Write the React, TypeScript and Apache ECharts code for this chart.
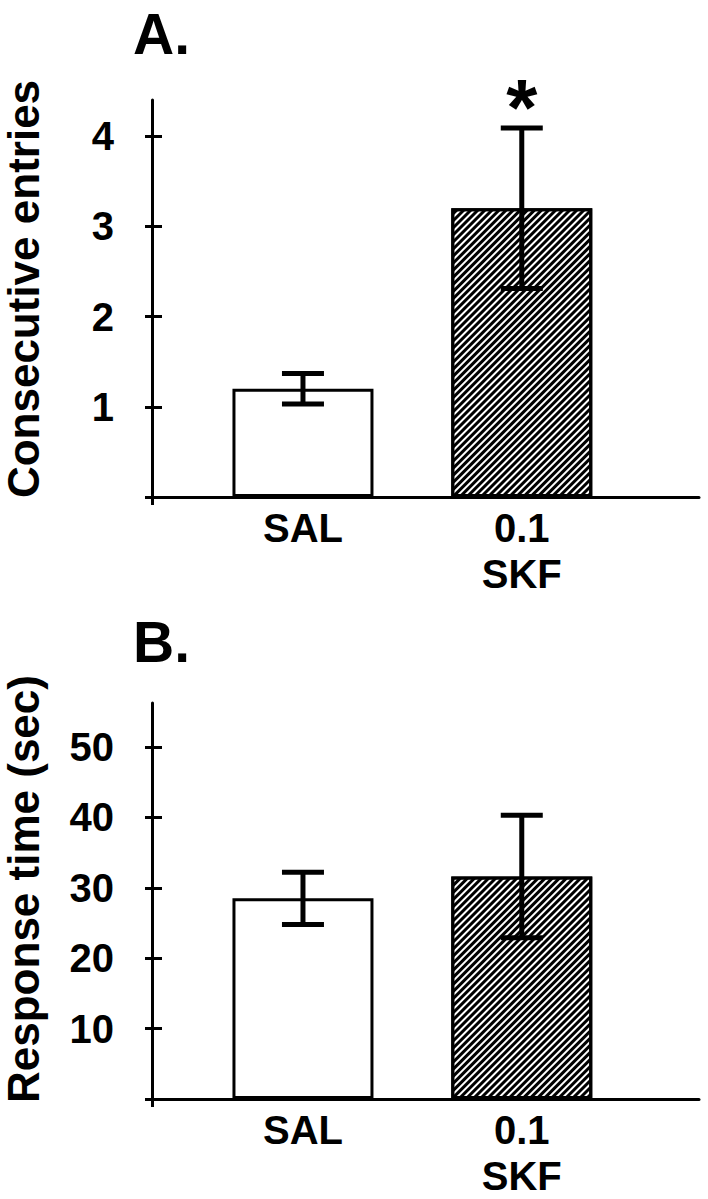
import React, { useEffect, useRef } from "react";
import * as echarts from "echarts";

const FONT = '"Liberation Sans", Arial, Helvetica, sans-serif';

// ---- data ----
const categories = ["SAL", "0.1\nSKF"];
const xPositions = [1, 2];
const entriesMean = [1.2, 3.2];
const entriesErr = [0.17, 0.89];
const entriesSig = ["", "*"];
const responseMean = [28.5, 31.6];
const responseErr = [3.7, 8.7];
const responseSig = ["", ""];
const entriesTicks = [1, 2, 3, 4];
const responseTicks = [10, 20, 30, 40, 50];
const panelTitles = ["A.", "B."];
const yTitles = ["Consecutive entries", "Response time (sec)"];

const X_MIN = 0.31;
const X_MAX = 2.81;

const hatchDecal = {
  symbol: "rect",
  symbolSize: 1,
  color: "#000",
  dashArrayX: [1, 0],
  dashArrayY: [2.4, 1.6],
  rotation: -Math.PI / 4,
};

function errorRenderItem(sig: string[]) {
  return (params: any, api: any) => {
    const x = api.value(0);
    const m = api.value(1);
    const e = api.value(2);
    const top = api.coord([x, m + e]);
    const bot = api.coord([x, m - e]);
    const hw = 21;
    const style = { stroke: "#000", lineWidth: 5 };
    const children: any[] = [
      { type: "line", shape: { x1: top[0], y1: top[1], x2: bot[0], y2: bot[1] }, style },
      { type: "line", shape: { x1: top[0] - hw, y1: top[1], x2: top[0] + hw, y2: top[1] }, style },
      { type: "line", shape: { x1: bot[0] - hw, y1: bot[1], x2: bot[0] + hw, y2: bot[1] }, style },
    ];
    const s = sig[params.dataIndex];
    if (s) {
      children.push({
        type: "text",
        style: {
          text: s,
          x: top[0],
          y: top[1] - 20,
          align: "center",
          verticalAlign: "middle",
          font: `bold 80px ${FONT}`,
          fill: "#000",
        },
      });
    }
    return { type: "group", children };
  };
}

export default function App() {
  const ref = useRef<HTMLDivElement>(null);
  useEffect(() => {
    if (!ref.current) return;
    const chart = echarts.init(ref.current, null, { renderer: "svg" });

    const grids = [
      { left: 152, top: 100, width: 547, height: 397, outerBoundsMode: "none", containLabel: false },
      { left: 152, top: 703, width: 547, height: 396, outerBoundsMode: "none", containLabel: false },
    ];
    const yMax = [4.4, 56.25];
    const tickSets = [entriesTicks, responseTicks];
    const means = [entriesMean, responseMean];
    const errs = [entriesErr, responseErr];
    const sigs = [entriesSig, responseSig];
    const namePad = [19, 24];

    const axisLine = { show: true, lineStyle: { color: "#000", width: 3 } };

    const xAxis: any[] = [];
    const yAxis: any[] = [];
    const series: any[] = [];
    for (let p = 0; p < 2; p++) {
      xAxis.push({
        type: "value",
        gridIndex: p,
        min: X_MIN,
        max: X_MAX,
        axisLine,
        splitLine: { show: false },
        axisTick: { show: true, customValues: [X_MIN], length: 8, lineStyle: { color: "#000", width: 3 } },
        axisLabel: {
          customValues: xPositions,
          formatter: (v: number) => {
            const i = xPositions.indexOf(Math.round(v));
            return i >= 0 ? categories[i] : "";
          },
          margin: 8,
          color: "#000",
          fontSize: 40,
          fontWeight: "bold",
          fontFamily: FONT,
          lineHeight: 46,
        },
      });
      yAxis.push({
        type: "value",
        gridIndex: p,
        position: "left",
        min: 0,
        max: yMax[p],
        name: yTitles[p],
        nameLocation: "middle",
        nameGap: 109,
        nameTextStyle: {
          color: "#000",
          fontSize: 44,
          lineHeight: 40,
          fontWeight: "bold",
          fontFamily: FONT,
          padding: [0, 0, 0, namePad[p]],
        },
        axisLine,
        splitLine: { show: false },
        axisTick: { show: true, customValues: [0, ...tickSets[p]], length: 7, lineStyle: { color: "#000", width: 3 } },
        axisLabel: {
          customValues: tickSets[p],
          margin: 38,
          color: "#000",
          fontSize: 40,
          fontWeight: "bold",
          fontFamily: FONT,
        },
      });
      yAxis.push({
        type: "value",
        gridIndex: p,
        position: "left",
        offset: 0,
        min: 0,
        max: yMax[p],
        axisLine: { show: false },
        splitLine: { show: false },
        axisLabel: { show: false },
        axisTick: { show: true, inside: true, customValues: tickSets[p], length: 10, lineStyle: { color: "#000", width: 3 } },
      });
      series.push({
        type: "bar",
        xAxisIndex: p,
        yAxisIndex: p * 2,
        barWidth: 141,
        data: xPositions.map((x, i) => ({
          value: [x, means[p][i]],
          itemStyle:
            i === 0
              ? { color: "#fff", borderColor: "#000", borderWidth: 3 }
              : { color: "#fff", borderColor: "#000", borderWidth: 3, decal: hatchDecal },
        })),
      });
      series.push({
        type: "custom",
        xAxisIndex: p,
        yAxisIndex: p * 2,
        clip: false,
        z: 10,
        encode: { x: 0, y: 1 },
        renderItem: errorRenderItem(sigs[p]),
        data: xPositions.map((x, i) => [x, means[p][i], errs[p][i]]),
      });
    }

    const titleStyle = { fontSize: 57, lineHeight: 50, fontWeight: "bold", fontFamily: FONT, color: "#000" };
    chart.setOption({
      animation: false,
      backgroundColor: "#fff",
      title: [
        { text: panelTitles[0], left: 133, top: 9, padding: 0, textStyle: titleStyle },
        { text: panelTitles[1], left: 133, top: 617, padding: 0, textStyle: titleStyle },
      ],
      grid: grids,
      xAxis,
      yAxis,
      series,
    });
    return () => chart.dispose();
  }, []);
  return <div ref={ref} style={{ position: "absolute", left: 0, top: 0, width: 708, height: 1199 }} />;
}
